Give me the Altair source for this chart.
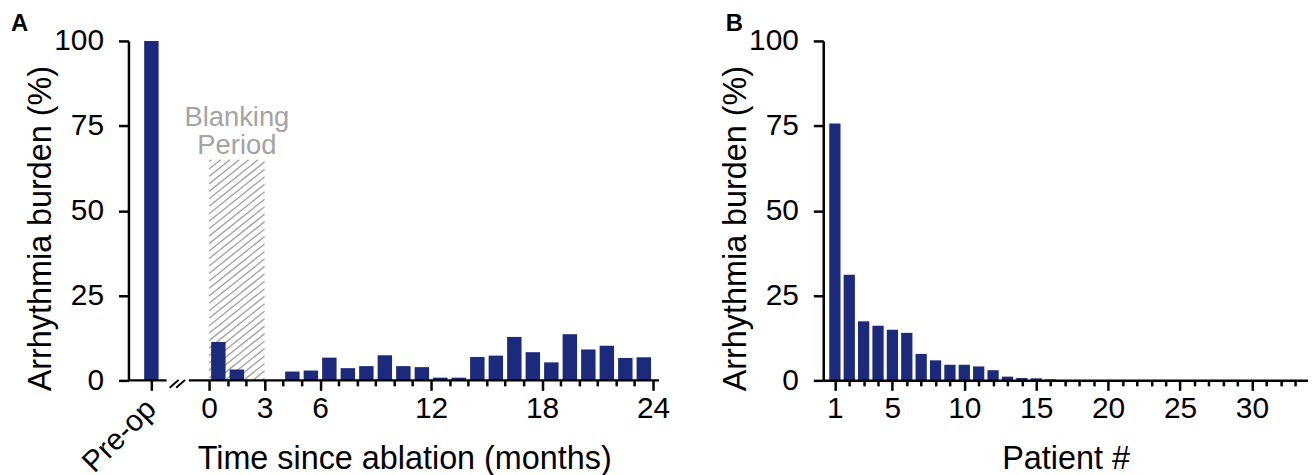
import altair as alt
import pandas as pd

# ---------------- data ----------------
# Panel A: monthly arrhythmia burden after ablation (bar m spans month m-1 .. m)
month_end = list(range(1, 25))
burden_a = [11.3, 3.2, 0, 0, 2.6, 2.9, 6.7, 3.6, 4.2, 7.4, 4.2, 3.9,
            0.8, 0.8, 6.9, 7.3, 12.8, 8.3, 5.3, 13.6, 9.1, 10.2, 6.6, 6.8]
preop_label = "Pre-op"
preop_value = 100
major_months = [0, 3, 6, 12, 18, 24]
blank_start, blank_end, blank_top = 0, 3, 65

# Panel B: per-patient burden, sorted
patients = list(range(1, 34))
burden_b = [75.7, 31.1, 17.4, 16.1, 14.9, 14.0, 7.8, 5.9, 4.6, 4.6, 4.1, 3.0,
            1.1, 0.7, 0.6, 0.3] + [0] * 17
y_ticks = [0, 25, 50, 75, 100]

# ---------------- layout / style ----------------
A_W, B_W, H = 533, 487, 341
A_DOM = [-4.36, 24.32]
B_DOM = [0.19, 33.9]
PREOP_X = -3.12
BREAK_X = -1.7
BAR = "#1b2a7c"
GREY = "#a4a4a4"
FONT = "Liberation Sans"
TITLE = "Arrhythmia burden (%)"

kx = A_W / (A_DOM[1] - A_DOM[0])
ky = H / 100.0

xsA = alt.Scale(domain=A_DOM, nice=False, zero=False, padding=0)
xsB = alt.Scale(domain=B_DOM, nice=False, zero=False, padding=0)
ys = alt.Scale(domain=[0, 100], nice=False, padding=0)

yaxis = alt.Axis(values=y_ticks, title=TITLE, tickSize=10, labelPadding=15,
                 titlePadding=-4, titleY=188, zindex=1)

# ---------------- panel A ----------------
dfA = pd.DataFrame({"x": [PREOP_X] + [m - 0.5 for m in month_end],
                    "v": [preop_value] + burden_a})

major_expr = "[" + ",".join(str(m) for m in major_months) + "]"
axA = alt.Axis(values=[PREOP_X] + list(range(0, 25)), title="Time since ablation (months)",
               domain=False, labelExpr=f"indexof({major_expr}, datum.value) >= 0 ? datum.label : ''",
               tickSize={"condition": {"test": f"datum.value < 0 || indexof({major_expr}, datum.value) >= 0", "value": 10}, "value": 5.5},
               labelPadding=3, titlePadding=20, titleX=277, labelOverlap=False, labelFlush=False, zindex=1)


def XA(field):
    return alt.X(field, type="quantitative", scale=xsA, axis=axA)


def YS(field):
    return alt.Y(field, type="quantitative", scale=ys, axis=yaxis)


barsA = alt.Chart(dfA).mark_bar(size=14.5, color=BAR).encode(x=XA("x"), y=YS("v"))

# hatch pattern of the blanking period
s, step = 0.8, 7.5
W_px = (blank_end - blank_start) * kx
H_px = blank_top * ky
rows = []
c = -s * W_px + 2
while c < H_px:
    xlo = max(0.0, -c / s)
    xhi = min(W_px, (H_px - c) / s)
    if xhi > xlo:
        rows.append({"x0": blank_start + xlo / kx, "y0": (c + s * xlo) / ky,
                     "x1": blank_start + xhi / kx, "y1": (c + s * xhi) / ky})
    c += step
hatch = alt.Chart(pd.DataFrame(rows)).mark_rule(color=GREY, strokeWidth=1.4).encode(
    x=XA("x0"), x2="x1:Q", y=YS("y0"), y2="y1:Q")

# broken x axis line
segs = pd.DataFrame({"a": [A_DOM[0], BREAK_X + 0.6], "b": [BREAK_X - 0.6, A_DOM[1]]})
axis_line = alt.Chart(segs).mark_rule(color="black", strokeWidth=2.5).encode(
    x=XA("a"), x2="b:Q", y=alt.value(H))

slashes = pd.DataFrame({"a": [BREAK_X + (o - 4.5) / kx for o in (-3.5, 3.0)],
                        "b": [BREAK_X + (o + 4.5) / kx for o in (-3.5, 3.0)]})
slash = alt.Chart(slashes).mark_rule(color="black", strokeWidth=2).encode(
    x=XA("a"), x2="b:Q", y=alt.value(H + 7.5), y2=alt.value(H - 0.5))

preop_txt = alt.Chart(pd.DataFrame({"x": [PREOP_X], "t": [preop_label]})).mark_text(
    angle=315, align="right", baseline="middle", fontSize=30, font=FONT, color="black",
    dx=-5, dy=5).encode(x=XA("x"), y=alt.value(H + 17), text="t:N")

blank_txt = alt.Chart(pd.DataFrame({"x": [(blank_start + blank_end) / 2], "t": ["Blanking\nPeriod"]})).mark_text(
    align="center", baseline="alphabetic", fontSize=27.5, font=FONT, color=GREY,
    lineBreak="\n", lineHeight=28.5).encode(x=XA("x"), y=alt.value(85), text="t:N")

letterA = alt.Chart(pd.DataFrame({"t": ["A"]})).mark_text(
    align="left", baseline="top", fontSize=24, fontWeight="bold", font=FONT, color="black").encode(
    x=alt.value(-118), y=alt.value(-29), text="t:N")

panelA = alt.layer(hatch, barsA, axis_line, slash, preop_txt, blank_txt, letterA).properties(
    width=A_W, height=H)

# ---------------- panel B ----------------
dfB = pd.DataFrame({"p": patients, "v": burden_b})
axB = alt.Axis(values=patients, title="Patient #",
               labelExpr="datum.value == 1 || datum.value % 5 == 0 ? datum.label : ''",
               tickSize={"condition": {"test": "datum.value == 1 || datum.value % 5 == 0", "value": 10}, "value": 5.5},
               labelPadding=3, titlePadding=20, labelOverlap=False, labelFlush=False, zindex=1)
barsB = alt.Chart(dfB).mark_bar(size=11.3, color=BAR).encode(
    x=alt.X("p:Q", scale=xsB, axis=axB), y=YS("v"))
letterB = alt.Chart(pd.DataFrame({"t": ["B"]})).mark_text(
    align="left", baseline="top", fontSize=24, fontWeight="bold", font=FONT, color="black").encode(
    x=alt.value(-98), y=alt.value(-29), text="t:N")
panelB = alt.layer(barsB, letterB).properties(width=B_W, height=H)

chart = alt.hconcat(panelA, panelB, spacing=165, bounds="flush").properties(
    padding={"left": 3, "top": 3, "right": 0, "bottom": 0}
).configure_view(stroke=None).configure_axis(
    grid=False, domainColor="black", domainWidth=2.5, tickColor="black", tickWidth=2.5,
    labelColor="black", titleColor="black", labelFont=FONT, titleFont=FONT,
    labelFontSize=30, titleFontSize=32.5, titleFontWeight="normal",
)

chart.save("out.html", embed_options={"renderer": "svg", "actions": False})
